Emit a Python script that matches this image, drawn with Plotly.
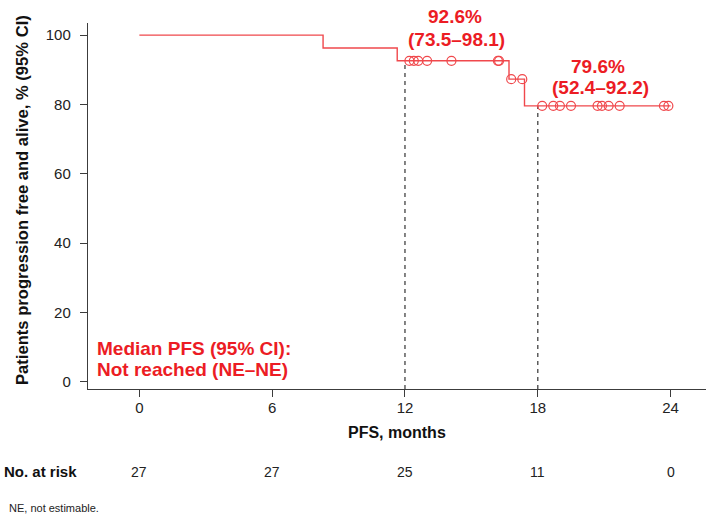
import plotly.graph_objects as go

# Kaplan-Meier step curve (months, % PFS)
step_times = [0, 8.3, 11.65, 16.7, 17.4, 24.0]
step_surv = [100, 96.3, 92.6, 87.3, 79.6, 79.6]

# Censored observations
censor_times = [12.2, 12.4, 12.6, 13.0, 14.1, 16.2, 16.25,
                16.8, 17.3,
                18.2, 18.7, 19.0, 19.5, 20.7, 20.9, 21.2, 21.7, 23.7, 23.9]
censor_surv = [92.6] * 7 + [87.3] * 2 + [79.6] * 10

# Landmark estimates
landmark_times = [12, 18]
landmark_surv = [92.6, 79.6]
landmark_labels = [["92.6%", "(73.5\u201398.1)"], ["79.6%", "(52.4\u201392.2)"]]

# Number at risk
risk_times = [0, 6, 12, 18, 24]
risk_counts = [27, 27, 25, 11, 0]

x_ticks = [0, 6, 12, 18, 24]
y_ticks = [0, 20, 40, 60, 80, 100]

X_RANGE = [-2.32, 25.6]
Y_RANGE = [-2.1, 103.5]

LINE_RED = "#F0484C"
TEXT_RED = "#EC1C24"
AXIS_COL = "#3c3c3c"
FONT = "Liberation Sans, Arial, sans-serif"

fig = go.Figure()

# dashed landmark lines
for t, s in zip(landmark_times, landmark_surv):
    fig.add_trace(go.Scatter(
        x=[t, t], y=[Y_RANGE[0], s], mode="lines",
        line=dict(color="#505050", width=1.4, dash="4px,4px"),
        hoverinfo="skip", showlegend=False))

fig.add_trace(go.Scatter(
    x=step_times, y=step_surv, mode="lines", line_shape="hv",
    line=dict(color=LINE_RED, width=1.4), showlegend=False))

fig.add_trace(go.Scatter(
    x=censor_times, y=censor_surv, mode="markers",
    marker=dict(symbol="circle-open", size=9, color=LINE_RED,
                line=dict(width=1.2, color=LINE_RED)),
    showlegend=False, cliponaxis=False))

annotations = []
# landmark labels (paper coordinates so they may sit above the plot area)
label_pos = [
    [(0.5939, 1.0172), (0.5963, 0.9554)],
    [(0.8252, 0.8806), (0.8298, 0.8243)],
]
for lines, poss in zip(landmark_labels, label_pos):
    for txt, (lx, ly) in zip(lines, poss):
        annotations.append(dict(
            x=lx, y=ly, xref="paper", yref="paper", text=txt, showarrow=False,
            xanchor="center", yanchor="middle",
            font=dict(family=FONT, size=19, color=TEXT_RED, weight="bold")))

# Median PFS text
for txt, ly in [("Median PFS (95% CI):", 0.1107), ("Not reached (NE\u2013NE)", 0.0533)]:
    annotations.append(dict(
        x=0.0113, y=ly, xref="paper", yref="paper", text=txt, showarrow=False,
        xanchor="left", yanchor="middle",
        font=dict(family=FONT, size=19, color=TEXT_RED, weight="bold")))

# axis titles
annotations.append(dict(
    x=0.5008, y=-0.1202, xref="paper", yref="paper", text="PFS, months",
    showarrow=False, xanchor="center", yanchor="middle",
    font=dict(family=FONT, size=16, color="#111111", weight="bold")))
annotations.append(dict(
    x=-0.1052, y=0.5164, xref="paper", yref="paper",
    text="Patients progression free and alive, % (95% CI)",
    showarrow=False, textangle=-90, xanchor="center", yanchor="middle",
    font=dict(family=FONT, size=16.6, color="#111111", weight="bold")))

# number at risk row
annotations.append(dict(
    x=-0.1396, y=-0.226, xref="paper", yref="paper", text="No. at risk",
    showarrow=False, xanchor="left", yanchor="middle",
    font=dict(family=FONT, size=15, color="#111111", weight="bold")))
for t, n in zip(risk_times, risk_counts):
    annotations.append(dict(
        x=t, y=-0.226, xref="x", yref="paper", text=str(n), showarrow=False,
        xanchor="center", yanchor="middle",
        font=dict(family=FONT, size=14, color="#222222")))

# footnote
annotations.append(dict(
    x=-0.1306, y=-0.3251, xref="paper", yref="paper", text="NE, not estimable.",
    showarrow=False, xanchor="left", yanchor="middle",
    font=dict(family=FONT, size=11, color="#222222")))

fig.update_layout(
    width=706, height=517,
    margin=dict(l=88, r=0, t=23, b=128),
    paper_bgcolor="white", plot_bgcolor="white",
    annotations=annotations,
    xaxis=dict(range=X_RANGE, tickvals=x_ticks, ticktext=[str(v) for v in x_ticks],
               showgrid=False, zeroline=False, showline=True, linecolor=AXIS_COL,
               linewidth=1.4, ticks="outside", ticklen=7, tickwidth=1.4,
               tickcolor=AXIS_COL, ticklabelstandoff=-2,
               tickfont=dict(family=FONT, size=15, color="#222222")),
    yaxis=dict(range=Y_RANGE, tickvals=y_ticks, ticktext=[str(v) for v in y_ticks],
               showgrid=False, zeroline=False, showline=True, linecolor=AXIS_COL,
               linewidth=1.4, ticks="outside", ticklen=7, tickwidth=1.4,
               tickcolor=AXIS_COL, ticklabelstandoff=6,
               tickfont=dict(family=FONT, size=15, color="#222222")),
)

fig.write_html("out.html")
